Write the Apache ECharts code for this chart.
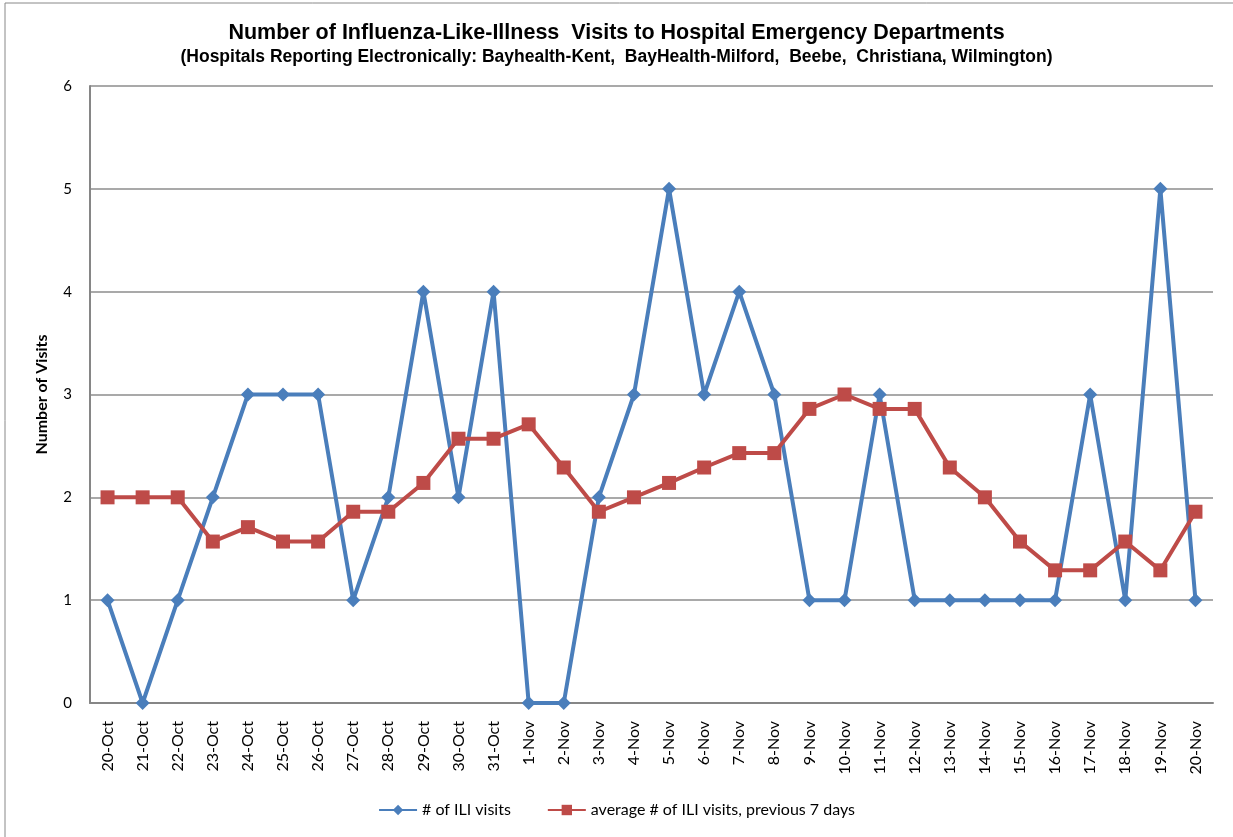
<!DOCTYPE html>
<html>
<head>
<meta charset="utf-8">
<title>ILI visits</title>
<script src="https://cdn.jsdelivr.net/npm/echarts@6/dist/echarts.min.js"></script>
<style>
  html, body { margin: 0; padding: 0; background: #fff; }
  #chart { width: 1233px; height: 837px; }
</style>
</head>
<body>
<div id="chart"></div>
<script>
'use strict';

const days = [
  "20-Oct", "21-Oct", "22-Oct", "23-Oct", "24-Oct", "25-Oct", "26-Oct", "27-Oct",
  "28-Oct", "29-Oct", "30-Oct", "31-Oct", "1-Nov", "2-Nov", "3-Nov", "4-Nov",
  "5-Nov", "6-Nov", "7-Nov", "8-Nov", "9-Nov", "10-Nov", "11-Nov", "12-Nov",
  "13-Nov", "14-Nov", "15-Nov", "16-Nov", "17-Nov", "18-Nov", "19-Nov", "20-Nov"
];

const iliVisits = [
  1, 0, 1, 2, 3, 3, 3, 1,
  2, 4, 2, 4, 0, 0, 2, 3,
  5, 3, 4, 3, 1, 1, 3, 1,
  1, 1, 1, 1, 3, 1, 5, 1
];

const avg7Days = [
  2, 2, 2, 1.57, 1.71, 1.57, 1.57, 1.86,
  1.86, 2.14, 2.57, 2.57, 2.71, 2.29, 1.86, 2,
  2.14, 2.29, 2.43, 2.43, 2.86, 3, 2.86, 2.86,
  2.29, 2, 1.57, 1.29, 1.29, 1.57, 1.29, 1.86
];

const yTicks = [0, 1, 2, 3, 4, 5, 6];

const blue = '#4A7EBB';
const red = '#BE4B48';
const labelFont = 'Lato, "Open Sans", sans-serif';
const titleFont = '"Liberation Sans Narrow", "Arial Narrow", "Liberation Sans", Arial, sans-serif';

const chart = echarts.init(document.getElementById('chart'));

const option = {
  animation: false,
  backgroundColor: '#fff',
  title: [
    {
      text: 'Number of Influenza-Like-Illness  Visits to Hospital Emergency Departments',
      left: 'center',
      top: 17,
      textStyle: { fontFamily: titleFont, fontSize: 21.5, fontWeight: 'bold', color: '#000' }
    },
    {
      text: '(Hospitals Reporting Electronically: Bayhealth-Kent,  BayHealth-Milford,  Beebe,  Christiana, Wilmington)',
      left: 'center',
      top: 43,
      textStyle: { fontFamily: titleFont, fontSize: 17.5, fontWeight: 'bold', color: '#000' }
    }
  ],
  graphic: [
    {
      type: 'rect',
      shape: { x: 5, y: 3, width: 1240, height: 845 },
      style: { fill: 'none', stroke: '#888', lineWidth: 1 },
      silent: true
    }
  ],
  legend: {
    bottom: 14,
    left: 'center',
    itemWidth: 38,
    itemHeight: 13,
    itemGap: 36,
    textStyle: { fontFamily: labelFont, fontSize: 16, color: '#000' },
    data: ['# of ILI visits', 'average # of ILI visits, previous 7 days']
  },
  grid: { left: 90, right: 20, top: 86, bottom: 134 },
  xAxis: {
    type: 'category',
    data: days,
    boundaryGap: true,
    axisLine: { lineStyle: { color: '#868686', width: 2 } },
    axisTick: { show: false },
    axisLabel: {
      rotate: 90,
      interval: 0,
      margin: 18,
      fontFamily: labelFont,
      fontSize: 16,
      color: '#000'
    }
  },
  yAxis: {
    type: 'value',
    min: yTicks[0],
    max: yTicks[yTicks.length - 1],
    interval: 1,
    name: 'Number of Visits',
    nameLocation: 'middle',
    nameGap: 40,
    nameTextStyle: { fontFamily: labelFont, fontSize: 16, fontWeight: 'bold', color: '#000' },
    axisLine: { show: true, lineStyle: { color: '#868686', width: 2 } },
    axisTick: { show: false },
    axisLabel: { margin: 18, fontFamily: labelFont, fontSize: 15, color: '#000' },
    splitLine: { lineStyle: { color: '#8c8c8c', width: 1.5 } }
  },
  series: [
    {
      name: '# of ILI visits',
      type: 'line',
      data: iliVisits,
      symbol: 'diamond',
      symbolSize: 14,
      color: blue,
      lineStyle: { color: blue, width: 4 },
      itemStyle: { color: blue },
      z: 3
    },
    {
      name: 'average # of ILI visits, previous 7 days',
      type: 'line',
      data: avg7Days,
      symbol: 'rect',
      symbolSize: 14,
      color: red,
      lineStyle: { color: red, width: 4 },
      itemStyle: { color: red },
      z: 4
    }
  ]
};

chart.setOption(option);
</script>
</body>
</html>
